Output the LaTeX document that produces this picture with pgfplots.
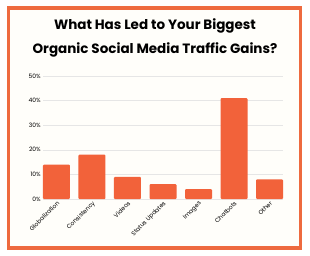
\documentclass[border=0pt]{standalone}
\usepackage{fontspec}
\setmainfont{Poppins}
\usepackage{pgfplots}
\pgfplotsset{compat=1.18}
\definecolor{barorange}{HTML}{F2623A}
\definecolor{frameorange}{HTML}{EE6A3F}
\definecolor{gridgray}{HTML}{E6E6E6}
\begin{document}
\begin{tikzpicture}[x=1pt,y=1pt]
\path[use as bounding box, fill=white] (0,0) rectangle (310,255);
\draw[frameorange, line width=3.5pt, fill={rgb,255:red,255;green,254;blue,250}] (8.5,7) rectangle (300.5,247);
\node[font=\fontsize{13.5}{16}\selectfont\bfseries, align=center] at (155,229) {What Has Led to Your Biggest};
\node[font=\fontsize{13.5}{16}\selectfont\bfseries, align=center] at (155,205) {Organic Social Media Traffic Gains?};
\begin{axis}[
  at={(43pt,56pt)}, anchor=south west,
  scale only axis, width=240pt, height=123pt,
  xmin=-0.38, xmax=6.38, ymin=0, ymax=50,
  axis line style={draw=none},
  ytick={0,10,20,30,40,50},
  yticklabel={\pgfmathprintnumber{\tick}\%},
  ymajorgrids, grid style={gridgray, line width=0.6pt},
  major tick length=0pt,
  xtick=data,
  xticklabels={Globalization,Consistency,Videos,Status Updates,Images,Chatbots,Other},
  xticklabel style={rotate=45, anchor=north east, inner sep=1pt, font=\fontsize{6}{7}\selectfont},
  yticklabel style={font=\fontsize{6}{7}\selectfont, inner sep=2pt},
  /pgf/number format/assume math mode=true,
  ybar, bar width=27pt,
  clip=false,
]
\addplot[fill=barorange, draw=none, rounded corners=1pt] coordinates {(0,14) (1,18) (2,9) (3,6) (4,4) (5,41) (6,8)};
\end{axis}
\end{tikzpicture}
\end{document}
